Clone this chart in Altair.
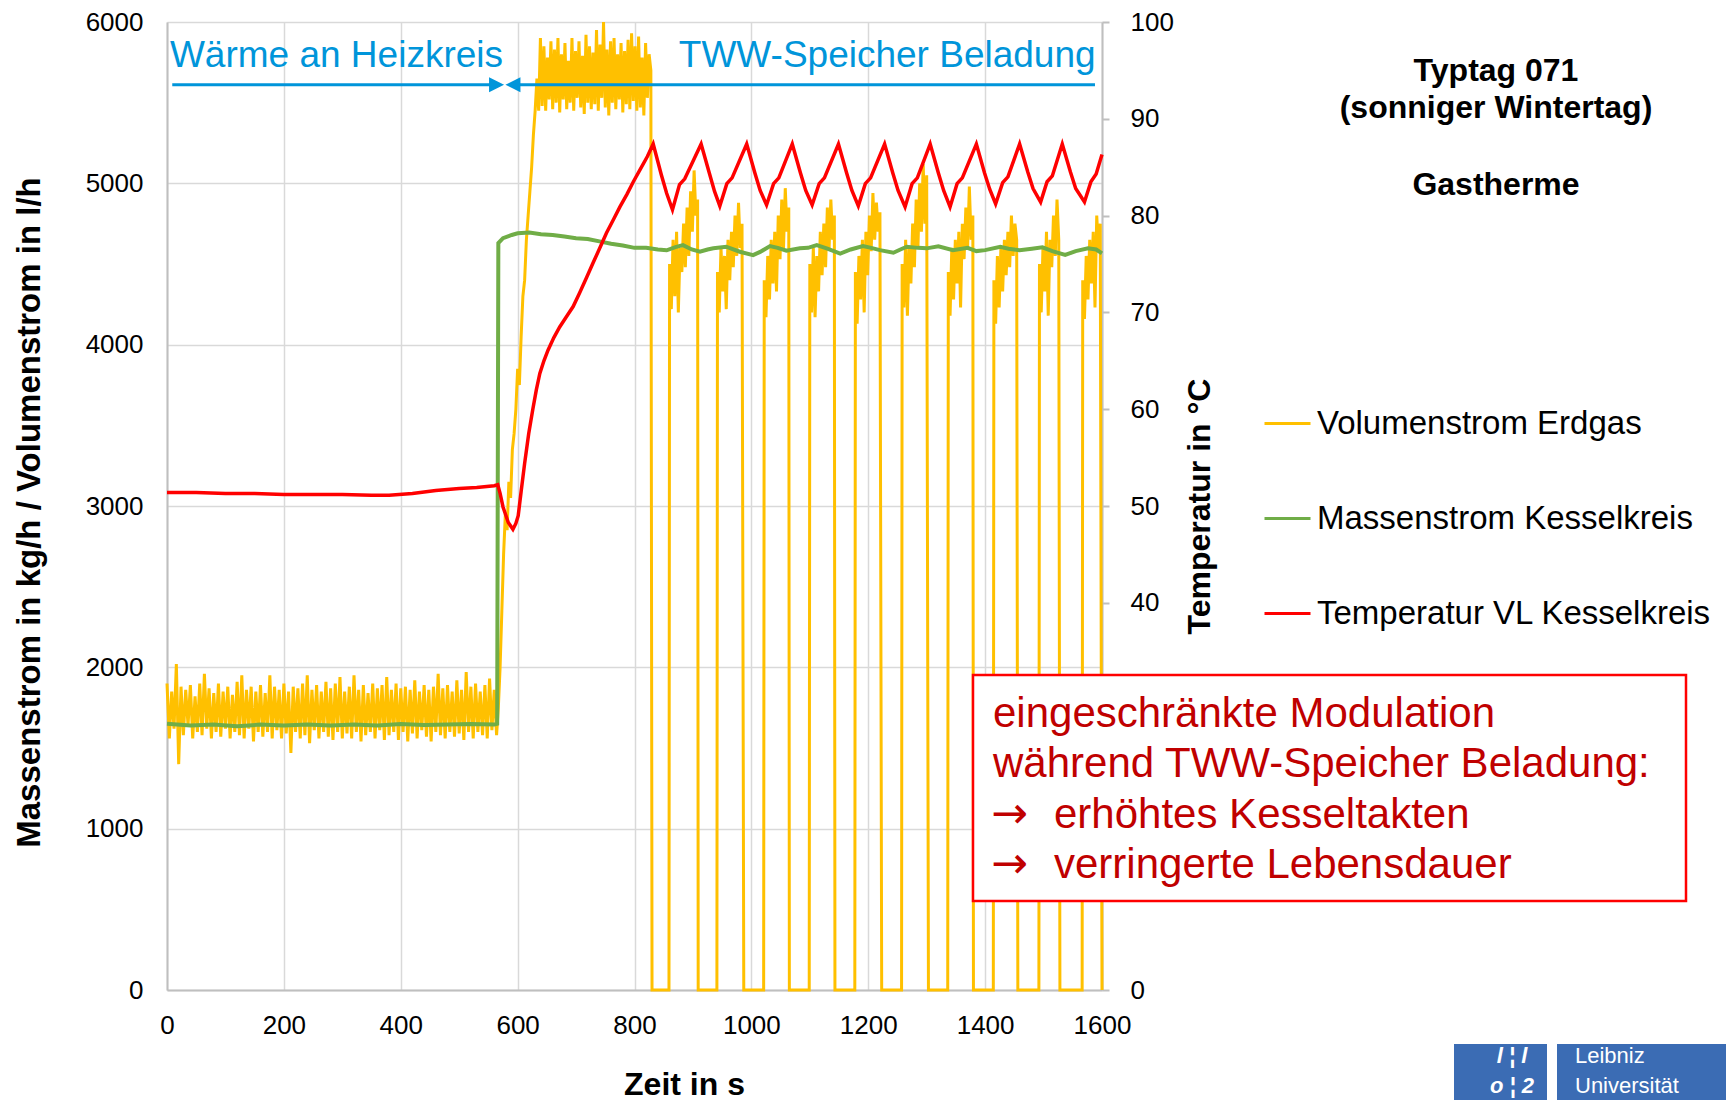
import altair as alt
import pandas as pd

# ---------------- colours / fonts ----------------
YELLOW = "#FFC000"
GREEN = "#70AD47"
RED = "#FF0000"
BLUE = "#0095DA"
DARKRED = "#C00000"
GRID = "#D9D9D9"
AXISGRAY = "#BFBFBF"
LOGO = "#3B6CB4"
FONT = "Liberation Sans"

SERIES = ["Volumenstrom Erdgas", "Massenstrom Kesselkreis", "Temperatur VL Kesselkreis"]
X_TICKS = [0, 200, 400, 600, 800, 1000, 1200, 1400, 1600]
YL_TICKS = [0, 1000, 2000, 3000, 4000, 5000, 6000]
# 10, 20 and 30 lie under the annotation box in the reference
YR_TICKS = [0, 40, 50, 60, 70, 80, 90, 100]

# ---------------- Volumenstrom Erdgas (l/h) ----------------
# heating phase, sampled every 4 s from t = 0 to 564 s
GAS_BASE_STEP = 4
GAS_BASE = [
    1900, 1560, 1850, 1620, 2020, 1400, 1880, 1580, 1860, 1640,
    1890, 1560, 1820, 1600, 1900, 1580, 1960, 1620, 1870, 1560,
    1840, 1600, 1900, 1570, 1850, 1620, 1880, 1560, 1830, 1600,
    1910, 1580, 1950, 1560, 1860, 1620, 1880, 1540, 1850, 1600,
    1890, 1570, 1840, 1600, 1950, 1560, 1880, 1610, 1860, 1560,
    1900, 1590, 1850, 1470, 1880, 1600, 1870, 1560, 1900, 1580,
    1950, 1530, 1860, 1610, 1890, 1560, 1850, 1600, 1910, 1570,
    1870, 1550, 1900, 1600, 1940, 1560, 1850, 1590, 1880, 1560,
    1950, 1600, 1860, 1540, 1890, 1580, 1840, 1600, 1900, 1560,
    1870, 1610, 1890, 1550, 1940, 1580, 1860, 1600, 1900, 1550,
    1870, 1600, 1880, 1540, 1860, 1590, 1920, 1560, 1850, 1610,
    1890, 1570, 1860, 1540, 1880, 1600, 1960, 1580, 1870, 1560,
    1890, 1600, 1850, 1570, 1920, 1590, 1860, 1550, 1970, 1600,
    1880, 1560, 1900, 1600, 1850, 1580, 1890, 1560, 1930, 1610,
    1860, 1580,
]
# ramp up at the start of the storage charging
GAS_RAMP_T = [567, 570, 573, 576, 579, 582, 585, 588, 591, 594, 597, 600,
              603, 606, 609, 612, 615, 618, 621, 624, 627, 630, 633]
GAS_RAMP = [1750, 2000, 2350, 2700, 2950, 2850, 3150, 3050, 3350, 3450, 3600, 3850,
            3750, 4050, 4300, 4400, 4650, 4800, 4950, 5100, 5300, 5450, 5650]
# full-load plateau, sampled every 3 s from t = 636 s
GAS_PLATEAU_T0 = 636
GAS_PLATEAU_STEP = 3
GAS_PLATEAU = [
    5450, 5900, 5480, 5850, 5450, 5780, 5520, 5880, 5460, 5830,
    5500, 5900, 5440, 5800, 5520, 5870, 5460, 5760, 5500, 5900,
    5450, 5820, 5530, 5880, 5470, 5790, 5430, 5920, 5500, 5850,
    5460, 5810, 5490, 5950, 5450, 5860, 5530, 6000, 5470, 5830,
    5420, 5880, 5500, 5900, 5460, 5800, 5520, 5870, 5440, 5820,
    5490, 5890, 5460, 5930, 5510, 5850, 5450, 5910, 5470, 5780,
    5420, 5870, 5530, 5800, 5700,
]
GAS_PLATEAU_OFF = 830
# burner cycles: switch-on time, switch-off time, values every 3 s while on
CYCLE_ON = [859, 941, 1021, 1099, 1177, 1257, 1336, 1414, 1492, 1566]
CYCLE_OFF = [909, 987, 1065, 1143, 1223, 1303, 1380, 1456, 1528, 1600]
CYCLE_STEP = 3
CYCLE_VALUES = [
    [4500, 4220, 4650, 4300, 4700, 4200, 4600, 4450, 4750, 4480, 4850, 4550, 4950, 4700, 5080, 4800, 4900],
    [4450, 4200, 4600, 4330, 4550, 4220, 4650, 4400, 4700, 4480, 4800, 4550, 4880, 4600, 4750],
    [4400, 4170, 4550, 4280, 4650, 4380, 4700, 4330, 4800, 4530, 4900, 4600, 4970, 4700, 4850],
    [4500, 4200, 4600, 4170, 4550, 4330, 4700, 4430, 4750, 4480, 4850, 4600, 4900, 4650, 4800],
    [4450, 4130, 4550, 4280, 4650, 4200, 4700, 4430, 4800, 4580, 4940, 4650, 4880, 4700, 4820],
    [4500, 4230, 4650, 4180, 4600, 4380, 4750, 4480, 4900, 4600, 5000, 4700, 5120, 4750, 5050],
    [4450, 4180, 4600, 4280, 4650, 4380, 4700, 4230, 4750, 4530, 4850, 4600, 4980, 4650, 4800],
    [4400, 4130, 4550, 4230, 4600, 4330, 4650, 4430, 4700, 4480, 4800, 4550, 4750, 4650],
    [4500, 4200, 4600, 4330, 4700, 4180, 4650, 4480, 4800, 4550, 4900, 4650],
    [4400, 4160, 4550, 4280, 4650, 4380, 4700, 4230, 4800, 4580, 4750],
]

# ---------------- Massenstrom Kesselkreis (kg/h) ----------------
GREEN_T = [0, 40, 80, 120, 160, 200, 240, 280, 320, 360, 400, 440, 480, 520, 560, 565,
           567, 575, 590, 600, 620, 640, 660, 680, 700, 720, 740, 760, 780, 800, 820,
           840, 855, 870, 883, 898, 912, 925, 935, 957, 980, 1003, 1015, 1032, 1045,
           1060, 1083, 1097, 1112, 1130, 1152, 1170, 1191, 1205, 1220, 1243, 1255,
           1266, 1285, 1300, 1320, 1345, 1370, 1385, 1400, 1426, 1440, 1459, 1480,
           1498, 1515, 1537, 1555, 1576, 1590, 1600]
GREEN_V = [1650, 1640, 1645, 1635, 1645, 1640, 1645, 1640, 1645, 1640, 1648, 1642, 1645, 1648, 1645, 1650,
           4630, 4660, 4680, 4690, 4695, 4685, 4680, 4670, 4660, 4655, 4640, 4625, 4615, 4600, 4600,
           4590, 4585, 4605, 4617, 4590, 4576, 4590, 4597, 4607, 4576, 4555, 4575, 4611, 4600,
           4582, 4597, 4600, 4617, 4595, 4565, 4590, 4611, 4600, 4586, 4570, 4590,
           4607, 4600, 4597, 4610, 4585, 4600, 4580, 4586, 4607, 4595, 4586, 4595,
           4603, 4580, 4556, 4580, 4597, 4590, 4566]

# ---------------- Temperatur VL Kesselkreis (°C) ----------------
RED_T = [0, 50, 100, 150, 200, 250, 300, 350, 380, 420, 460, 500, 530, 560, 566,
         570, 575, 584, 592, 597, 601, 606, 612, 619, 626, 632, 638, 645, 652, 662,
         672, 684, 695, 706, 718, 729, 741, 752, 764, 775, 787, 798, 810, 822, 832,
         846, 855, 865, 877, 886, 914,
         928, 937, 946, 958, 967, 992,
         1006, 1015, 1026, 1038, 1047, 1070,
         1084, 1093, 1104, 1116, 1125, 1149,
         1163, 1172, 1183, 1195, 1204, 1228,
         1242, 1251, 1263, 1275, 1284, 1306,
         1320, 1329, 1340, 1352, 1361, 1385,
         1399, 1408, 1418, 1430, 1439, 1459,
         1473, 1482, 1495, 1506, 1515, 1532,
         1546, 1555, 1570, 1581, 1590, 1600]
RED_V = [51.4, 51.4, 51.3, 51.3, 51.2, 51.2, 51.2, 51.1, 51.1, 51.3, 51.6, 51.8, 51.9, 52.1, 52.2,
         51.3, 49.9, 48.3, 47.6, 48.2, 49.0, 51.5, 54.4, 57.5, 60.0, 62.0, 63.7, 65.0, 66.1, 67.4,
         68.5, 69.6, 70.6, 72.0, 73.6, 75.1, 76.7, 78.2, 79.6, 80.9, 82.2, 83.5, 84.8, 86.1, 87.4,
         84.2, 82.3, 80.6, 83.2, 83.8, 87.4,
         84.4, 82.5, 81.0, 83.3, 83.9, 87.4,
         84.4, 82.6, 81.1, 83.3, 83.9, 87.4,
         84.4, 82.6, 81.1, 83.3, 83.9, 87.4,
         84.4, 82.6, 81.0, 83.3, 83.9, 87.4,
         84.4, 82.6, 80.9, 83.3, 83.9, 87.4,
         84.4, 82.6, 80.9, 83.3, 83.9, 87.4,
         84.4, 82.7, 81.2, 83.4, 84.0, 87.4,
         84.5, 82.8, 81.4, 83.5, 84.1, 87.4,
         84.5, 82.8, 81.4, 83.5, 84.3, 86.3]

# ---------------- build tables ----------------
gas_t, gas_v = [], []
for i, v in enumerate(GAS_BASE):
    gas_t.append(i * GAS_BASE_STEP)
    gas_v.append(v)
gas_t += GAS_RAMP_T
gas_v += GAS_RAMP
for i, v in enumerate(GAS_PLATEAU):
    gas_t.append(GAS_PLATEAU_T0 + i * GAS_PLATEAU_STEP)
    gas_v.append(v)
gas_t.append(GAS_PLATEAU_OFF)
gas_v.append(0)
for on, off, vals in zip(CYCLE_ON, CYCLE_OFF, CYCLE_VALUES):
    gas_t.append(on)
    gas_v.append(0)
    for i, v in enumerate(vals):
        gas_t.append(on + 1 + i * CYCLE_STEP)
        gas_v.append(v)
    gas_t.append(off)
    gas_v.append(0)

df_gas = pd.DataFrame({"t": gas_t, "v": gas_v, "series": SERIES[0]})
df_green = pd.DataFrame({"t": GREEN_T, "v": GREEN_V, "series": SERIES[1]})
df_red = pd.DataFrame({"t": RED_T, "temp": RED_V, "series": SERIES[2]})
one = pd.DataFrame({"k": [0]})

# ---------------- scales / axes / legend ----------------
x_scale = alt.Scale(domain=[0, 1600], nice=False)
yl_scale = alt.Scale(domain=[0, 6000], nice=False)
yr_scale = alt.Scale(domain=[0, 100], nice=False)
color_scale = alt.Scale(domain=SERIES, range=[YELLOW, GREEN, RED])

legend = alt.Legend(
    orient="none", legendX=1096, legendY=377, title=None,
    symbolType="stroke", symbolSize=2116, symbolStrokeWidth=3,
    labelFont=FONT, labelFontSize=33, labelColor="black", labelOffset=5,
    rowPadding=53, padding=0, labelLimit=600,
)

x_axis = alt.Axis(
    values=X_TICKS, format="d", title="Zeit in s", titleFont=FONT, titleFontSize=32,
    titleFontWeight="bold", titleColor="black", titleX=517, titleY=104,
    titleAlign="center", titleBaseline="alphabetic",
    labelFont=FONT, labelFontSize=26, labelColor="black", labelPadding=22,
    labelFlush=False, labelOverlap=False, ticks=False,
    grid=True, gridColor=GRID, gridWidth=1.5, domainColor=AXISGRAY, domainWidth=2,
)
yl_axis = alt.Axis(
    values=YL_TICKS, format="d", title="Massenstrom in kg/h / Volumenstrom in l/h",
    titleFont=FONT, titleFontSize=33, titleFontWeight="bold", titleColor="black",
    titleAngle=-90, titleX=-128, titleY=490, titleAlign="center", titleBaseline="alphabetic",
    labelFont=FONT, labelFontSize=26, labelColor="black", labelPadding=24,
    ticks=False, grid=True, gridColor=GRID, gridWidth=1.5,
    domainColor=AXISGRAY, domainWidth=2,
)
yr_axis = alt.Axis(
    orient="right", values=YR_TICKS, format="d", title="Temperatur in °C",
    titleFont=FONT, titleFontSize=32, titleFontWeight="bold", titleColor="black",
    titleAngle=-90, titleX=107, titleY=484, titleAlign="center", titleBaseline="alphabetic",
    labelFont=FONT, labelFontSize=26, labelColor="black", labelPadding=21,
    ticks=True, tickSize=7, tickColor=AXISGRAY, tickWidth=2,
    grid=False, domainColor=AXISGRAY, domainWidth=2,
)

X = alt.X("t:Q", scale=x_scale, axis=x_axis)
YL = alt.Y("v:Q", scale=yl_scale, axis=yl_axis)
COLOR = alt.Color("series:N", scale=color_scale, legend=legend)

gas = alt.Chart(df_gas).mark_line(strokeWidth=3).encode(x=X, y=YL, color=COLOR)
green = alt.Chart(df_green).mark_line(strokeWidth=4).encode(x=X, y=YL, color=COLOR)
red = alt.Chart(df_red).mark_line(strokeWidth=3.5).encode(
    x=X, y=alt.Y("temp:Q", scale=yr_scale, axis=yr_axis), color=COLOR)

# phase annotation (blue) in data coordinates
ARROW_Y = 5611
arrow1 = alt.Chart(one).mark_rule(color=BLUE, strokeWidth=3).encode(
    x=alt.datum(9), x2=alt.datum(566), y=alt.datum(ARROW_Y))
arrow2 = alt.Chart(one).mark_rule(color=BLUE, strokeWidth=3).encode(
    x=alt.datum(590), x2=alt.datum(1588), y=alt.datum(ARROW_Y))
head1 = alt.Chart(one).mark_point(shape="M-1,-1L1,0L-1,1Z", filled=True, size=225,
                                  color=BLUE, opacity=1, strokeWidth=0).encode(
    x=alt.datum(564), y=alt.datum(ARROW_Y))
head2 = alt.Chart(one).mark_point(shape="M1,-1L-1,0L1,1Z", filled=True, size=225,
                                  color=BLUE, opacity=1, strokeWidth=0).encode(
    x=alt.datum(592), y=alt.datum(ARROW_Y))
txt_heiz = alt.Chart(one).mark_text(align="left", baseline="alphabetic", font=FONT,
                                    fontSize=37, color=BLUE).encode(
    x=alt.datum(5), y=alt.datum(5721), text=alt.value("Wärme an Heizkreis"))
txt_tww = alt.Chart(one).mark_text(align="right", baseline="alphabetic", font=FONT,
                                   fontSize=37, color=BLUE).encode(
    x=alt.datum(1589), y=alt.datum(5721), text=alt.value("TWW-Speicher Beladung"))

left = alt.layer(gas, green, arrow1, arrow2, head1, head2, txt_heiz, txt_tww)


def ptext(txt, x, y, size, color="black", weight="normal", align="left", font=FONT, style="normal"):
    return alt.Chart(one).mark_text(align=align, baseline="alphabetic", font=font,
                                    fontSize=size, fontWeight=weight, color=color,
                                    fontStyle=style).encode(
        x=alt.value(x), y=alt.value(y), text=alt.value(txt))


# title block
t1 = ptext("Typtag 071", 1329, 59, 32, weight="bold", align="center")
t2 = ptext("(sonniger Wintertag)", 1329, 96, 32, weight="bold", align="center")
t3 = ptext("Gastherme", 1329, 173, 32, weight="bold", align="center")

# red annotation box
box = alt.Chart(one).mark_rect(fill="white", stroke=RED, strokeWidth=2.5).encode(
    x=alt.value(806), x2=alt.value(1519), y=alt.value(653), y2=alt.value(879))
b1 = ptext("eingeschränkte Modulation", 826, 705, 42, color=DARKRED)
b2 = ptext("während TWW-Speicher Beladung:", 826, 755, 42, color=DARKRED)
a3 = ptext("→", 824, 806, 44, color=DARKRED, font="DejaVu Sans")
b3 = ptext("erhöhtes Kesseltakten", 887, 806, 42, color=DARKRED)
a4 = ptext("→", 824, 856, 44, color=DARKRED, font="DejaVu Sans")
b4 = ptext("verringerte Lebensdauer", 887, 856, 42, color=DARKRED)

# logo
logo1 = alt.Chart(one).mark_rect(fill=LOGO).encode(
    x=alt.value(1287), x2=alt.value(1380), y=alt.value(1022), y2=alt.value(1080))
logo2 = alt.Chart(one).mark_rect(fill=LOGO).encode(
    x=alt.value(1390), x2=alt.value(1560), y=alt.value(1022), y2=alt.value(1080))
l1 = ptext("Leibniz", 1408, 1041, 22, color="white")
l2 = ptext("Universität", 1408, 1071, 22, color="white")
l3 = ptext("l ¦ l", 1345, 1041, 22, color="white", align="center", style="italic", weight="bold")
l4 = ptext("o ¦ 2", 1345, 1071, 22, color="white", align="center", style="italic", weight="bold")

chart = alt.layer(
    left, red, t1, t2, t3, box, b1, b2, a3, b3, a4, b4, logo1, logo2, l1, l2, l3, l4
).resolve_scale(y="independent").properties(
    width=935, height=968,
    autosize=alt.AutoSizeParams(type="none"),
    padding={"left": 167, "top": 22, "right": 624, "bottom": 110},
    background="white",
).configure_view(stroke=None)

chart.save("out.html", embed_options={"renderer": "svg", "actions": False})
